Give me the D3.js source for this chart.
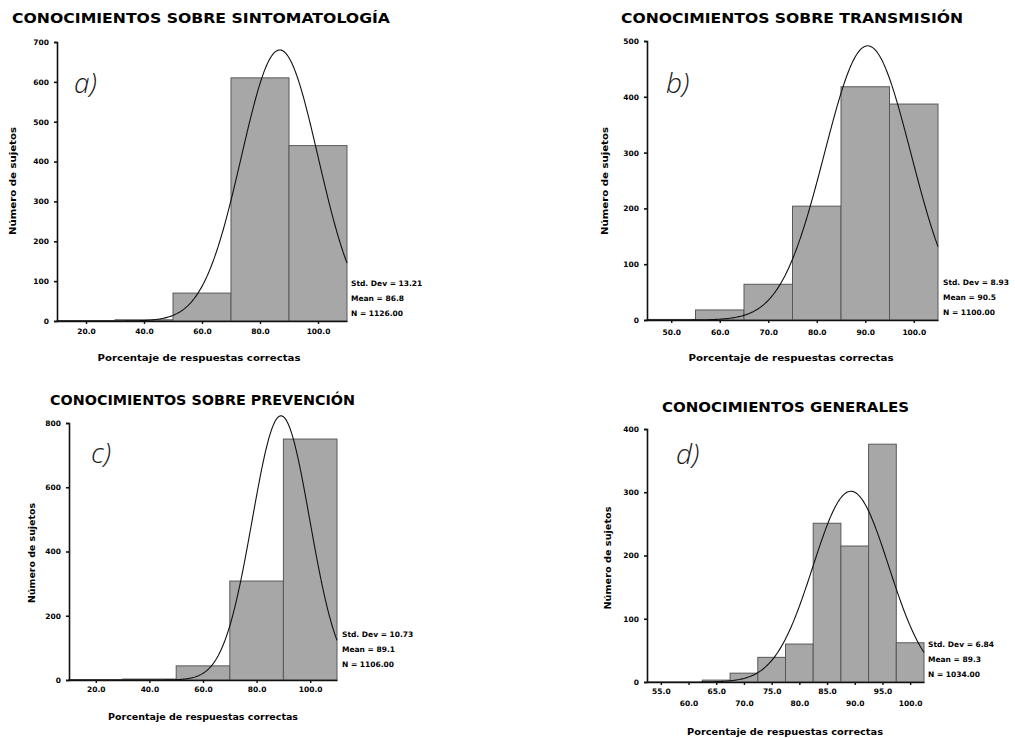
<!DOCTYPE html>
<html>
<head>
<meta charset="utf-8">
<script src="https://cdn.jsdelivr.net/npm/d3@7"></script>
<style>
  html, body { margin: 0; padding: 0; background: #fff; }
  svg { display: block; }
  .tick-lbl { font-family: "DejaVu Sans", sans-serif; font-weight: bold; font-size: 7.5px; fill: #000; }
  .stat { font-family: "DejaVu Sans", sans-serif; font-weight: bold; font-size: 7.5px; fill: #000; }
  .title { font-family: "DejaVu Sans", sans-serif; font-weight: bold; font-size: 14px; fill: #000; }
  .axlbl { font-family: "DejaVu Sans", sans-serif; font-weight: bold; font-size: 8.5px; fill: #000; }
  .plbl { font-family: "Open Sans", sans-serif; font-weight: 300; font-style: italic; font-size: 28px; fill: #1a1a1a; }
</style>
</head>
<body>
<svg id="chart" width="1015" height="738"></svg>
<script>
// ---------------- DATA ----------------
const titles = [
  "CONOCIMIENTOS SOBRE SINTOMATOLOGÍA",
  "CONOCIMIENTOS SOBRE TRANSMISIÓN",
  "CONOCIMIENTOS SOBRE PREVENCIÓN",
  "CONOCIMIENTOS GENERALES"
];
const panelLabels = ["a)", "b)", "c)", "d)"];
const xAxisTitle = "Porcentaje de respuestas correctas";
const yAxisTitle = "Número de sujetos";

// a) Sintomatología
const binCentersA = [20, 40, 60, 80, 100];
const countsA     = [1, 3, 70, 610, 440];
const xTicksA     = [20, 40, 60, 80, 100];
const yTicksA     = [0, 100, 200, 300, 400, 500, 600, 700];
const statsA      = { sd: 13.21, mean: 86.8, n: 1126, binWidth: 20 };
const statLabelsA = ["Std. Dev = 13.21", "Mean = 86.8", "N = 1126.00"];

// b) Transmisión
const binCentersB = [50, 60, 70, 80, 90, 100];
const countsB     = [1, 18, 64, 204, 418, 387];
const xTicksB     = [50, 60, 70, 80, 90, 100];
const yTicksB     = [0, 100, 200, 300, 400, 500];
const statsB      = { sd: 8.93, mean: 90.5, n: 1100, binWidth: 10 };
const statLabelsB = ["Std. Dev = 8.93", "Mean = 90.5", "N = 1100.00"];

// c) Prevención
const binCentersC = [20, 40, 60, 80, 100];
const countsC     = [1, 3, 44, 308, 750];
const xTicksC     = [20, 40, 60, 80, 100];
const yTicksC     = [0, 200, 400, 600, 800];
const statsC      = { sd: 10.73, mean: 89.1, n: 1106, binWidth: 20 };
const statLabelsC = ["Std. Dev = 10.73", "Mean = 89.1", "N = 1106.00"];

// d) Generales
const binCentersD = [55, 60, 65, 70, 75, 80, 85, 90, 95, 100];
const countsD     = [0, 0, 3, 14, 39, 60, 251, 215, 376, 62];
const xTicksD     = [55, 60, 65, 70, 75, 80, 85, 90, 95, 100];
const yTicksD     = [0, 100, 200, 300, 400];
const statsD      = { sd: 6.84, mean: 89.3, n: 1034, binWidth: 5 };
const statLabelsD = ["Std. Dev = 6.84", "Mean = 89.3", "N = 1034.00"];

// ---------------- LAYOUT ----------------
const panels = [
  { centers: binCentersA, counts: countsA, xTicks: xTicksA, yTicks: yTicksA, stats: statsA, statLabels: statLabelsA,
    xDom: [10, 110], xRange: [57, 347], yDom: [0, 700], yRange: [321, 42], stagger: false,
    title: { x: 12, y: 23, w: 378 }, lbl: { x: 74, y: 93 }, xlbl: { x: 199, y: 361, w: 203 }, ylbl: { x: 16, y: 181, w: 108 },
    statPos: { x: 351, y: 286 }, tickY: 334 },
  { centers: binCentersB, counts: countsB, xTicks: xTicksB, yTicks: yTicksB, stats: statsB, statLabels: statLabelsB,
    xDom: [45, 105], xRange: [647, 938], yDom: [0, 500], yRange: [320, 41], stagger: false,
    title: { x: 621, y: 23, w: 342 }, lbl: { x: 666, y: 93 }, xlbl: { x: 791, y: 361, w: 205 }, ylbl: { x: 608, y: 181, w: 108 },
    statPos: { x: 943, y: 285 }, tickY: 335 },
  { centers: binCentersC, counts: countsC, xTicks: xTicksC, yTicks: yTicksC, stats: statsC, statLabels: statLabelsC,
    xDom: [10, 110], xRange: [69, 337], yDom: [0, 800], yRange: [680, 423], stagger: false,
    title: { x: 50, y: 405, w: 305 }, lbl: { x: 91, y: 463 }, xlbl: { x: 203, y: 720, w: 190 }, ylbl: { x: 35, y: 553, w: 100 },
    statPos: { x: 342, y: 637 }, tickY: 692 },
  { centers: binCentersD, counts: countsD, xTicks: xTicksD, yTicks: yTicksD, stats: statsD, statLabels: statLabelsD,
    xDom: [52.5, 102.5], xRange: [647, 924], yDom: [0, 400], yRange: [682, 429], stagger: true,
    title: { x: 662, y: 412, w: 247 }, lbl: { x: 676, y: 464 }, xlbl: { x: 785, y: 735, w: 196 }, ylbl: { x: 611, y: 558, w: 103 },
    statPos: { x: 928, y: 647 }, tickY: 694 }
];

const svg = d3.select("#chart");

panels.forEach((p, i) => {
  const g = svg.append("g");
  const x = d3.scaleLinear().domain(p.xDom).range(p.xRange);
  const y = d3.scaleLinear().domain(p.yDom).range(p.yRange);
  const bw = p.stats.binWidth;

  // Title
  g.append("text").attr("class", "title")
    .attr("x", p.title.x).attr("y", p.title.y)
    .attr("textLength", p.title.w).attr("lengthAdjust", "spacingAndGlyphs")
    .text(titles[i]);

  // Bars
  g.selectAll("rect.bar").data(p.centers.map((c, k) => ({ c, v: p.counts[k] })).filter(d => d.v > 0))
    .enter().append("rect").attr("class", "bar")
    .attr("x", d => x(d.c - bw / 2))
    .attr("width", d => x(d.c + bw / 2) - x(d.c - bw / 2))
    .attr("y", d => y(d.v))
    .attr("height", d => y(0) - y(d.v))
    .attr("fill", "#a7a7a7")
    .attr("stroke", "#585858")
    .attr("stroke-width", 1);

  // Normal curve
  const s = p.stats;
  const pdf = v => s.n * bw / (s.sd * Math.sqrt(2 * Math.PI)) * Math.exp(-0.5 * Math.pow((v - s.mean) / s.sd, 2));
  const xs = d3.range(p.xDom[0], p.xDom[1] + 0.001, (p.xDom[1] - p.xDom[0]) / 300);
  g.append("path")
    .attr("d", d3.line().x(v => x(v)).y(v => y(pdf(v)))(xs))
    .attr("fill", "none").attr("stroke", "#111").attr("stroke-width", 1.1);

  // Y axis
  const yAx = d3.axisLeft(y).tickValues(p.yTicks).tickSize(3).tickPadding(5).tickFormat(d3.format("d"));
  const ya = g.append("g").attr("transform", `translate(${p.xRange[0]},0)`).call(yAx);
  ya.select(".domain").attr("stroke", "#111").attr("stroke-width", 1.6);
  ya.selectAll(".tick line").attr("stroke", "#111").attr("stroke-width", 1.6);
  ya.selectAll(".tick text").attr("class", "tick-lbl").attr("font-family", null).attr("font-size", null);
  ya.attr("font-family", null).attr("font-size", null);

  // X axis
  const xAx = d3.axisBottom(x).tickValues(p.xTicks).tickSize(3).tickSizeOuter(0).tickFormat(d3.format(".1f"));
  const xa = g.append("g").attr("transform", `translate(0,${p.yRange[0]})`).call(xAx);
  xa.select(".domain").attr("stroke", "#111").attr("stroke-width", 1.6);
  xa.selectAll(".tick line").attr("stroke", "#111").attr("stroke-width", 1.4);
  xa.attr("font-family", null).attr("font-size", null);
  xa.selectAll(".tick text").attr("class", "tick-lbl").attr("font-family", null).attr("font-size", null)
    .attr("y", (d, k) => (p.tickY - p.yRange[0]) + (p.stagger && k % 2 === 1 ? 12 : 0))
    .attr("dy", "0");

  // Panel letter
  g.append("text").attr("class", "plbl").attr("x", p.lbl.x).attr("y", p.lbl.y).text(panelLabels[i]);

  // Stats
  g.selectAll("text.stat").data(p.statLabels).enter().append("text").attr("class", "stat")
    .attr("x", p.statPos.x).attr("y", (d, k) => p.statPos.y + k * 15).text(d => d);

  // Axis titles
  g.append("text").attr("class", "axlbl").attr("text-anchor", "middle")
    .attr("x", p.xlbl.x).attr("y", p.xlbl.y)
    .attr("textLength", p.xlbl.w).attr("lengthAdjust", "spacingAndGlyphs")
    .text(xAxisTitle);
  g.append("text").attr("class", "axlbl").attr("text-anchor", "middle")
    .attr("transform", `translate(${p.ylbl.x},${p.ylbl.y}) rotate(-90)`)
    .attr("textLength", p.ylbl.w).attr("lengthAdjust", "spacingAndGlyphs")
    .text(yAxisTitle);
});
</script>
</body>
</html>
